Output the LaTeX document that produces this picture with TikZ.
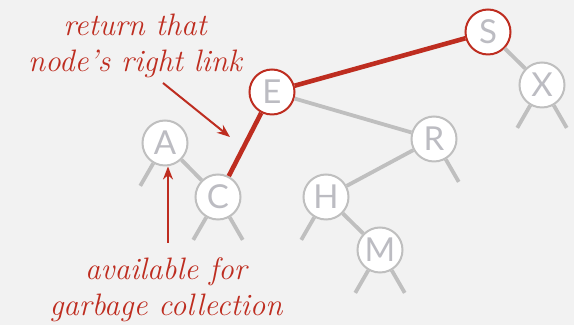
\documentclass[tikz,border=0pt]{standalone}
\usepackage{fontspec}
\newfontfamily\keyfont{Lato}
\usetikzlibrary{arrows.meta}

\definecolor{bookred}{RGB}{190,45,32}
\definecolor{linkgray}{RGB}{191,191,191}
\definecolor{keygray}{RGB}{188,188,194}
\definecolor{paper}{RGB}{242,242,242}

\tikzset{
  key/.style={circle, draw=linkgray, line width=1pt, fill=white,
    minimum size=22.5pt, inner sep=0pt, text=keygray,
    font=\keyfont\fontsize{16.5}{16.5}\selectfont},
  hit/.style={key, draw=bookred},
  link/.style={draw=linkgray, line width=1.9pt},
  redlink/.style={draw=bookred, line width=2.3pt},
  note/.style={text=bookred, align=center, inner sep=0pt,
    font=\itshape\fontsize{15.5}{18}\selectfont},
  pointer/.style={bookred, line width=1pt, -{Stealth[length=6.5pt,width=5pt]}}
}

\begin{document}
\begin{tikzpicture}[x=0.5pt, y=-0.5pt]
\fill[paper] (0,0) rectangle (574,325);

% keys
\node[hit] (E) at (272,92)  {E};
\node[hit] (S) at (488,32)  {S};
\node[key] (X) at (542,85)  {X};
\node[key] (R) at (434,139) {R};
\node[key] (H) at (326,197) {H};
\node[key] (M) at (380,250) {M};
\node[key] (A) at (165,143) {A};
\node[key] (C) at (218,197) {C};

% links
\draw[redlink] (E) -- (S);
\draw[redlink] (E) -- (C);
\draw[link] (E) -- (R);
\draw[link] (S) -- (X);
\draw[link] (R) -- (H);
\draw[link] (H) -- (M);
\draw[link] (A) -- (C);

% null links
\foreach \k/\a in {A/240, C/240, C/300, H/240, M/240, M/300, R/300, X/240, X/300}
  \draw[link] (\k.\a) -- ++(\a:13pt);

% notes
\node[note] (ret) at (135,46) {return that\\node's right link};
\node[note] (gc) at (166,290) {available for\\garbage collection};
\coordinate (ret tail) at (163,83);
\coordinate (ret tip) at (230,137);
\coordinate (gc tail) at (168,243);
\draw[pointer] (ret tail) -- (ret tip);
\draw[pointer] (gc tail) -- (A.south -| gc tail);
\end{tikzpicture}
\end{document}
